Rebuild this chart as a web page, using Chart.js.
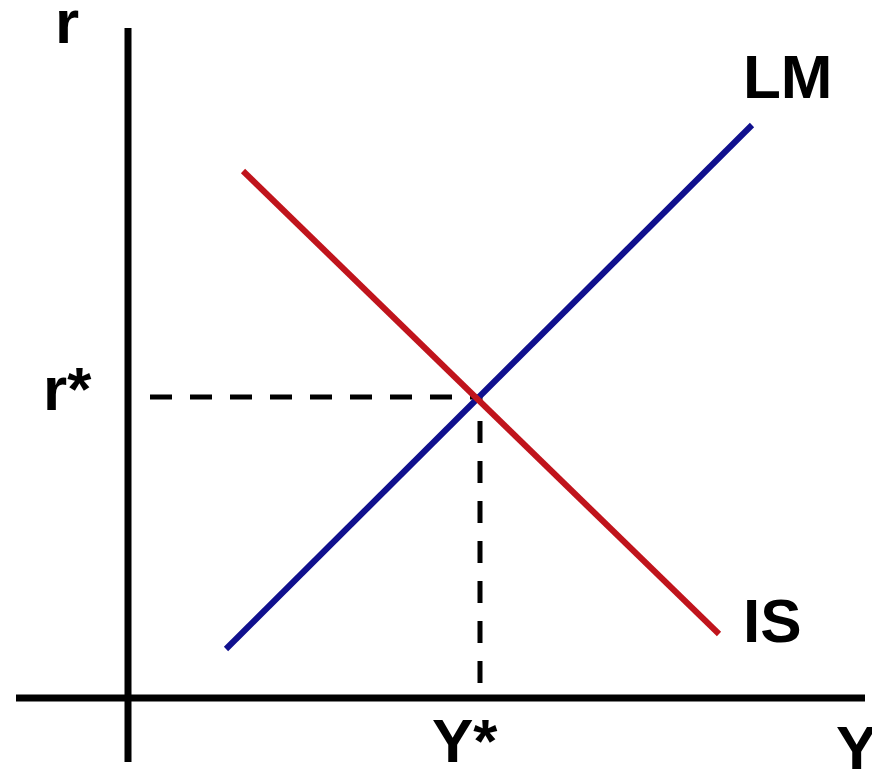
<!DOCTYPE html>
<html>
<head>
<meta charset="utf-8">
<script src="https://cdn.jsdelivr.net/npm/chart.js@4"></script>
<style>
    body { margin: 0; background: #fff; }
    #wrap { width: 872px; height: 769px; }
</style>
</head>
<body>
<div id="wrap"><canvas id="islm-chart" width="872" height="769"></canvas></div>
<script>
// values (origin = where the axes cross)
const lm_x = [9.8, 62.4];
const lm_y = [4.9, 57.3];
const is_x = [11.5, 59.1];
const is_y = [52.7, 6.4];

const y_star = 35.2;
const r_star = 30.1;

const x_axis = [-11.2, 73.7];
const y_axis = [-6.4, 67.0];

// text labels and where they sit
const label_text = ["r", "r*", "Y*", "Y", "LM", "IS"];
const label_x = [-7.3, -8.5, 30.4, 70.8, 61.5, 61.5];
const label_y = [65.5, 28.8, -6.4, -7.1, 60.0, 5.6];

const to_points = (xs, ys) => xs.map((x, i) => ({ x: x, y: ys[i] }));

const labels_plugin = {
    id: 'labels',
    afterDatasetsDraw(chart) {
        const ctx = chart.ctx;
        const sx = chart.scales.x;
        const sy = chart.scales.y;
        ctx.save();
        ctx.fillStyle = '#000';
        ctx.font = 'bold 62px "Liberation Sans", Arial, sans-serif';
        ctx.textAlign = 'left';
        ctx.textBaseline = 'alphabetic';
        label_text.forEach((t, i) => {
            ctx.fillText(t, sx.getPixelForValue(label_x[i]), sy.getPixelForValue(label_y[i]));
        });
        ctx.restore();
    }
};

let islm_chart = new Chart(
    document.getElementById('islm-chart'),
    {
        type: 'scatter',
        data: {
            datasets: [
                {
                    label: 'IS',
                    data: to_points(is_x, is_y),
                    showLine: true,
                    borderColor: '#c0141c',
                    borderWidth: 6,
                    pointRadius: 0,
                    order: 0
                },
                {
                    label: 'LM',
                    data: to_points(lm_x, lm_y),
                    showLine: true,
                    borderColor: '#10108e',
                    borderWidth: 6,
                    pointRadius: 0,
                    order: 1
                },
                {
                    label: 'r*',
                    data: [{ x: 2.2, y: r_star }, { x: y_star, y: r_star }],
                    showLine: true,
                    borderColor: '#000',
                    borderWidth: 5,
                    borderDash: [22, 18],
                    pointRadius: 0,
                    order: 2
                },
                {
                    label: 'Y*',
                    data: [{ x: y_star, y: 1.5 }, { x: y_star, y: r_star }],
                    showLine: true,
                    borderColor: '#000',
                    borderWidth: 5,
                    borderDash: [22, 18],
                    pointRadius: 0,
                    order: 2
                },
                {
                    label: 'x axis',
                    data: [{ x: x_axis[0], y: 0 }, { x: x_axis[1], y: 0 }],
                    showLine: true,
                    borderColor: '#000',
                    borderWidth: 7,
                    pointRadius: 0,
                    order: 3
                },
                {
                    label: 'y axis',
                    data: [{ x: 0, y: y_axis[0] }, { x: 0, y: y_axis[1] }],
                    showLine: true,
                    borderColor: '#000',
                    borderWidth: 7,
                    pointRadius: 0,
                    order: 3
                }
            ]
        },
        options: {
            responsive: false,
            devicePixelRatio: 1,
            animation: false,
            layout: { padding: 0 },
            scales: {
                x: { type: 'linear', display: false, min: -12.8, max: 74.4 },
                y: { type: 'linear', display: false, min: -7.1, max: 69.8 }
            },
            plugins: {
                legend: { display: false },
                tooltip: { enabled: false }
            }
        },
        plugins: [labels_plugin]
    });
</script>
</body>
</html>
